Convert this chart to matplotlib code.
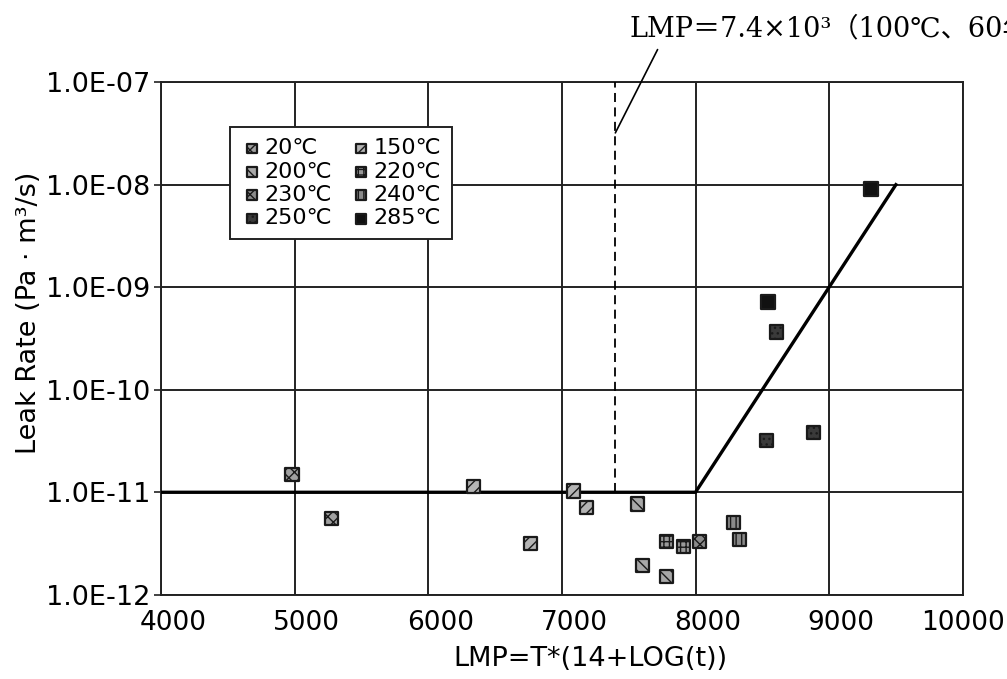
import matplotlib
matplotlib.use("Agg")
import matplotlib.pyplot as plt
import matplotlib.transforms as mtransforms
import numpy as np

plt.rcParams['font.family'] = ['DejaVu Sans', 'Noto Sans CJK JP']

# data
temps = ['20℃', '150℃', '200℃', '220℃', '230℃', '240℃', '250℃', '285℃']
lmp = {
    '20℃':  [4980, 5273],
    '150℃': [6337, 6764, 7086, 7184],
    '200℃': [7566, 7603, 7783],
    '220℃': [7783, 7910],
    '230℃': [8030],
    '240℃': [8285, 8330],
    '250℃': [8532, 8607, 8884],
    '285℃': [8539, 9311],
}
leak = {
    '20℃':  [1.48e-11, 5.5e-12],
    '150℃': [1.13e-11, 3.14e-12, 1.03e-11, 7.05e-12],
    '200℃': [7.7e-12, 1.92e-12, 1.5e-12],
    '220℃': [3.29e-12, 2.94e-12],
    '230℃': [3.29e-12],
    '240℃': [5.03e-12, 3.44e-12],
    '250℃': [3.18e-11, 3.66e-10, 3.8e-11],
    '285℃': [7.2e-10, 9.06e-9],
}
face = ['#a0a0a0', '#b4b4b4', '#a8a8a8', '#999999', '#8c8c8c', '#8a8a8a', '#3a3a3a', '#111111']
hatches = ['xxx', '///', '\\\\\\', '+++', 'xxx', '|||', '...', None]

trend_x = [4000, 8000, 9500]
trend_y = [1e-11, 1e-11, 1e-8]
lmp_100c = 7400

x_ticks = [4000, 5000, 6000, 7000, 8000, 9000, 10000]
y_ticks = [1e-12, 1e-11, 1e-10, 1e-9, 1e-8, 1e-7]
y_tick_labels = ['1.0E-12', '1.0E-11', '1.0E-10', '1.0E-09', '1.0E-08', '1.0E-07']

fig = plt.figure(figsize=(10.07, 6.79), dpi=100)
ax = fig.add_axes([0.160, 0.124, 0.796, 0.755])

ax.set_yscale('log')
ax.set_xlim(4000, 10000)
ax.set_ylim(1e-12, 1e-7)
ax.set_xticks(x_ticks)
ax.set_yticks(y_ticks)
ax.set_yticklabels(y_tick_labels)
ax.yaxis.set_minor_locator(matplotlib.ticker.NullLocator())
ax.grid(True, color='#222222', lw=1.4)
ax.set_axisbelow(True)
for s in ax.spines.values():
    s.set_color('#222222')
    s.set_linewidth(1.4)
ax.tick_params(axis='y', length=5, width=1.2, labelsize=19.5, pad=3, color='#222222')
ax.tick_params(axis='x', length=0, labelsize=19, pad=11)

# scanned labels sit a bit to the right of the gridlines
offset = mtransforms.ScaledTranslation(0.12, 0, fig.dpi_scale_trans)
for lab in ax.get_xticklabels()[:-1]:
    lab.set_transform(lab.get_transform() + offset)

ax.plot(trend_x, trend_y, color='black', lw=2.4, zorder=3)
ax.vlines(lmp_100c, 1e-11, 1e-7, colors='black', linestyles=(0, (5, 3)), lw=1.3, zorder=3)

handles = {}
for t, fc, h in zip(temps, face, hatches):
    handles[t] = ax.scatter(lmp[t], leak[t], marker='s', s=90, facecolor=fc, edgecolor='#1a1a1a',
                            linewidths=1.6, hatch=h, label=t, zorder=4)

# legend reads row by row in the original
order = ['20℃', '200℃', '230℃', '250℃', '150℃', '220℃', '240℃', '285℃']
leg = ax.legend([handles[t] for t in order], order, loc='upper left',
                bbox_to_anchor=(0.086, 0.912), borderaxespad=0, ncol=2, fontsize=16,
                frameon=True, fancybox=False, edgecolor='#222222', framealpha=1,
                handletextpad=0.05, columnspacing=0.8, labelspacing=0.15,
                borderpad=0.5, handlelength=1.0, markerscale=0.75)
leg.get_frame().set_linewidth(1.4)

ax.set_xlabel('LMP=T*(14+LOG(t))', fontsize=19.5)
ax.xaxis.set_label_coords(0.535, -0.1)
ax.set_ylabel('Leak Rate (Pa · m³/s)', fontsize=19.5)
ax.yaxis.set_label_coords(-0.148, 0.55)

fig.text(0.625, 0.957, 'LMP＝7.4×10³（100℃、60年）', fontsize=19.5, va='center', ha='left',
         family=['DejaVu Serif', 'Noto Sans CJK JP'])
ax.annotate('', xy=(lmp_100c, 3.2e-8), xycoords='data', xytext=(0.653, 0.927),
            textcoords='figure fraction',
            arrowprops=dict(arrowstyle='-', color='black', lw=1.2, shrinkA=0, shrinkB=0))

fig.savefig('out.png', dpi=100)
